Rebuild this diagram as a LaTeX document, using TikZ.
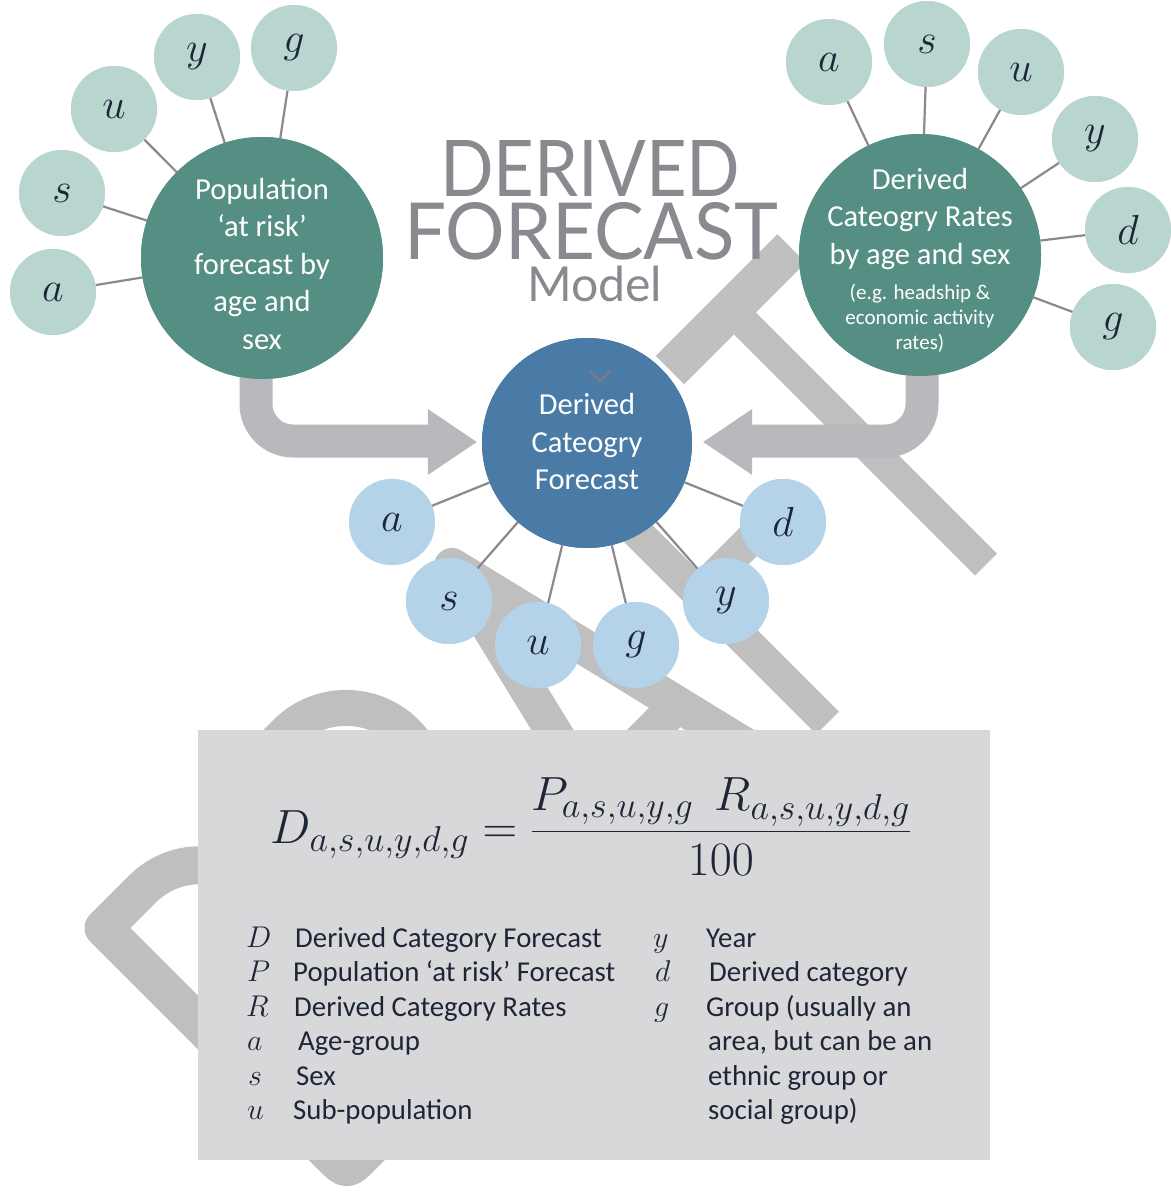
\RequirePackage{fix-cm}
\documentclass[tikz,border=0pt]{standalone}
\usepackage[no-math]{fontspec}
\usepackage{graphicx}
\setmainfont{Carlito}
\newfontfamily\titlefont{Lato}
\DeclareMathSizes{48}{48}{36}{27}
\definecolor{cTeal}{HTML}{558F84}
\definecolor{cLTeal}{HTML}{B8D5D0}
\definecolor{cBlue}{HTML}{4A7BA6}
\definecolor{cLBlue}{HTML}{B4D3E8}
\definecolor{cArr}{HTML}{B9B8BC}
\definecolor{cWM}{HTML}{BFBFBF}
\definecolor{cBox}{HTML}{D8D8DA}
\definecolor{cTitle}{HTML}{8B8890}
\definecolor{cInk}{HTML}{1C2637}
\definecolor{cLine}{HTML}{8C8791}
\definecolor{cChev}{HTML}{7C7A86}
\begin{document}
\begin{tikzpicture}[x=1pt,y=-1pt,
  wm/.style={draw=cWM, line join=round},
  arrowbody/.style={draw=cArr, line width=33pt, rounded corners=37pt},
  arrowhead/.style={fill=cArr},
  bigteal/.style={circle, fill=cTeal, minimum size=242pt, inner sep=0pt},
  bigblue/.style={circle, fill=cBlue, minimum size=210pt, inner sep=0pt},
  smallteal/.style={circle, fill=cLTeal, minimum size=86pt, inner sep=0pt, text=cInk, font=\fontsize{42}{46}\selectfont},
  smallblue/.style={circle, fill=cLBlue, minimum size=86pt, inner sep=0pt, text=cInk, font=\fontsize{42}{46}\selectfont},
  conn/.style={draw=cLine, line width=2.2pt},
  ctext/.style={text=white, align=center, inner sep=0pt, font=\fontsize{30.5}{37.5}\selectfont},
  stext/.style={text=white, align=center, inner sep=0pt, font=\fontsize{21}{25}\selectfont},
  legtxt/.style={anchor=base west, text=cInk, inner sep=0pt, font=\fontsize{28.8}{34}\selectfont},
  legsym/.style={anchor=base west, text=cInk, inner sep=0pt, font=\fontsize{30}{34}\selectfont},
  titletext/.style={anchor=base west, inner sep=0pt, text=cTitle}
]
\useasboundingbox (0,0) rectangle (1170,1196);
\fill[white] (0,0) rectangle (1170,1196);

% ---------- DRAFT watermark (rotated frame: U = letter right, W = letter down)
\begin{scope}[shift={(520,520)}, rotate=45]
  % D
  \draw[wm, line width=38pt] (-583,170) -- (-583,-6) -- (-528,-6)
      .. controls (-483,-6) and (-447,30) .. (-447,75) -- (-447,257)
      .. controls (-447,302) and (-483,338) .. (-528,338) -- (-560,338)
      .. controls (-583,338) .. (-583,315) -- cycle;
  % R
  \draw[wm, line width=36pt] (-400,361) -- (-400,-15) -- (-316,-15)
      .. controls (-269,-15) and (-231,23) .. (-231,70)
      .. controls (-231,117) and (-269,155) .. (-316,155) -- (-400,155);
  \draw[wm, line width=36pt] (-330,155) -- (-235,361);
  % A
  \draw[wm, line width=36pt] (-171,361) -- (-80.6,-15.6) -- (9.8,361);
  \draw[wm, line width=36pt] (-142.4,242) -- (-18.8,242);
  % F
  \draw[wm, line width=32pt] (74,361) -- (74,3.5) -- (180,3.5);
  \draw[wm, line width=32pt] (74,177) -- (170,177);
  % T
  \draw[wm, line width=40pt] (212,0) -- (384,0);
  \draw[wm, line width=31pt] (298,0) -- (298,361);
\end{scope}

% ---------- title
\node[titletext] (t1) at (440,196) {\resizebox{300pt}{56pt}{\titlefont DERIVED}};
\node[titletext] (t2) at (404,259) {\resizebox{374pt}{57pt}{\titlefont FORECAST}};
\node[titletext] (t3) at (527,301) {\resizebox{135pt}{!}{\titlefont Model}};

% ---------- circles (positions)
\node[bigteal] (P) at (262,258) {};
\node[bigteal] (Rt) at (920,255) {};
\node[bigblue] (Dc) at (587,443) {};

\node[smallteal] (pa) at (53,292) {$a$};
\node[smallteal] (ps) at (62,193) {$s$};
\node[smallteal] (pu) at (114,109) {$u$};
\node[smallteal] (py) at (197,57) {$y$};
\node[smallteal] (pg) at (294,48) {$g$};

\node[smallteal] (ra) at (829,62) {$a$};
\node[smallteal] (rs) at (927,44) {$s$};
\node[smallteal] (ru) at (1021,72) {$u$};
\node[smallteal] (ry) at (1095,139) {$y$};
\node[smallteal] (rd) at (1128,230) {$d$};
\node[smallteal] (rg) at (1113,327) {$g$};

\node[smallblue] (da) at (392,522) {$a$};
\node[smallblue] (ds) at (449,601) {$s$};
\node[smallblue] (du) at (538,645) {$u$};
\node[smallblue] (dg) at (636,645) {$g$};
\node[smallblue] (dy) at (726,601) {$y$};
\node[smallblue] (dd) at (783,522) {$d$};

% ---------- arrows
\draw[arrowbody] ([xshift=-6pt,yshift=10pt]P.south) |- ([xshift=-50pt,yshift=2pt]Dc.west);
\fill[arrowhead] ([xshift=-54pt,yshift=34pt]Dc.west) -- ([xshift=-5pt,yshift=1pt]Dc.west) -- ([xshift=-54pt,yshift=-32pt]Dc.west) -- cycle;
\draw[arrowbody] ([xshift=2pt,yshift=10pt]Rt.south) |- ([xshift=56pt,yshift=2pt]Dc.east);
\fill[arrowhead] ([xshift=60pt,yshift=34pt]Dc.east) -- ([xshift=11pt,yshift=1pt]Dc.east) -- ([xshift=60pt,yshift=-32pt]Dc.east) -- cycle;

% ---------- connectors
\foreach \n in {pa,ps,pu,py,pg} \draw[conn] (\n) -- (P);
\foreach \n in {ra,rs,ru,ry,rd,rg} \draw[conn] (\n) -- (Rt);
\foreach \n in {da,ds,du,dg,dy,dd} \draw[conn] (\n) -- (Dc);

% redraw circles on top of arrows and connectors
\node[bigteal] at (P) {};
\node[bigteal] at (Rt) {};
\node[bigblue] at (Dc) {};
\foreach \n/\l in {pa/a,ps/s,pu/u,py/y,pg/g,ra/a,rs/s,ru/u,ry/y,rd/d,rg/g}
  \node[smallteal] at (\n) {$\l$};
\foreach \n/\l in {da/a,ds/s,du/u,dg/g,dy/y,dd/d}
  \node[smallblue] at (\n) {$\l$};

% ---------- circle texts
\node[ctext] (Ptxt) at (262,264) {Population\\‘at risk’\\forecast by\\age and\\sex};
\node[ctext] (Rtxt) at (920,219) {Derived\\Cateogry Rates\\by age and sex};
\node[stext] (Rstxt) at (920,318) {(e.g. headship \&\\economic activity\\rates)};
\node[ctext] (Dtxt) at (587,442) {Derived\\Cateogry\\Forecast};
\draw[cChev, line width=2.5pt] (590,371) -- (600,381) -- (611,371);

% ---------- formula box
\node[fill=cBox, minimum width=792pt, minimum height=430pt, inner sep=0pt, anchor=north west] (box) at (198,730) {};
\node[anchor=base, text=cInk, inner sep=0pt, font=\fontsize{48}{58}\selectfont] (F) at (591,843)
  {$\displaystyle D_{a,s,u,y,d,g} = \frac{P_{a,s,u,y,g}\;\,R_{a,s,u,y,d,g}}{100}$};

% ---------- legend
\node[legsym] (sD) at (246,947) {$D$};
\node[legsym] (sP) at (247,981.5) {$P$};
\node[legsym] (sR) at (246,1016) {$R$};
\node[legsym] (sa) at (247,1050.5) {$a$};
\node[legsym] (ss) at (248,1085) {$s$};
\node[legsym] (su) at (247,1119.5) {$u$};
\node[legtxt] (tD) at (295,947) {Derived Category Forecast};
\node[legtxt] (tP) at (293,981.5) {Population ‘at risk’ Forecast};
\node[legtxt] (tR) at (294,1016) {Derived Category Rates};
\node[legtxt] (ta) at (298,1050.5) {Age-group};
\node[legtxt] (ts) at (296,1085) {Sex};
\node[legtxt] (tu) at (293,1119.5) {Sub-population};

\node[legsym] (sy) at (653,947) {$y$};
\node[legsym] (sd) at (655,981.5) {$d$};
\node[legsym] (sg) at (654,1016) {$g$};
\node[legtxt] (ty) at (706,947) {Year};
\node[legtxt] (td) at (709,981.5) {Derived category};
\node[legtxt] (tg1) at (706,1016) {Group (usually an};
\node[legtxt] (tg2) at (708,1050.5) {area, but can be an};
\node[legtxt] (tg3) at (708,1085) {ethnic group or};
\node[legtxt] (tg4) at (708,1119.5) {social group)};
\end{tikzpicture}
\end{document}
